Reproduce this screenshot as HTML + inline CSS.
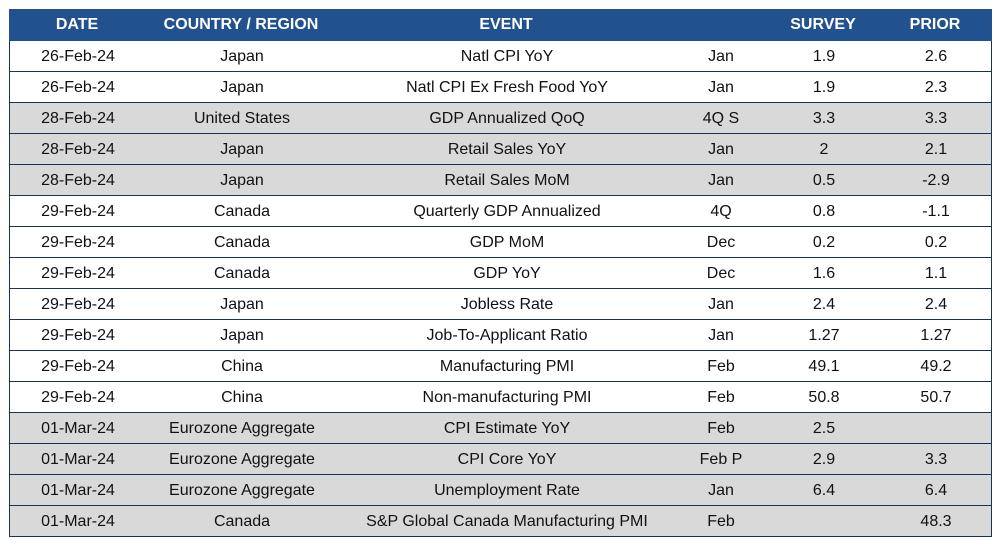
<!DOCTYPE html><html><head><style>
body{margin:0;width:1000px;height:550px;background:#fff;font-family:"Liberation Sans",Arial,sans-serif;position:relative;overflow:hidden}
.t{position:absolute;left:9px;width:983px;top:9px}
.r{position:relative;height:30px;border-bottom:1px solid #1b3350;border-left:1px solid #1b3350;border-right:1px solid #1b3350;font-size:16px;color:#111}
.h{background:#22518f;color:#fff;font-weight:bold;height:32px;border:none}
.h span{line-height:32px!important}
.g{background:#d9d9d9}
.r span{position:absolute;top:0;line-height:31px;transform:translateX(-50%);white-space:nowrap}
</style></head><body><div class="t" id="t"></div>
<script>
var cx=[68,232,497,711,814,926];
var rows=[["DATE","COUNTRY / REGION","EVENT","","SURVEY","PRIOR"],
["26-Feb-24","Japan","Natl CPI YoY","Jan","1.9","2.6",0],
["26-Feb-24","Japan","Natl CPI Ex Fresh Food YoY","Jan","1.9","2.3",0],
["28-Feb-24","United States","GDP Annualized QoQ","4Q S","3.3","3.3",1],
["28-Feb-24","Japan","Retail Sales YoY","Jan","2","2.1",1],
["28-Feb-24","Japan","Retail Sales MoM","Jan","0.5","-2.9",1],
["29-Feb-24","Canada","Quarterly GDP Annualized","4Q","0.8","-1.1",0],
["29-Feb-24","Canada","GDP MoM","Dec","0.2","0.2",0],
["29-Feb-24","Canada","GDP YoY","Dec","1.6","1.1",0],
["29-Feb-24","Japan","Jobless Rate","Jan","2.4","2.4",0],
["29-Feb-24","Japan","Job-To-Applicant Ratio","Jan","1.27","1.27",0],
["29-Feb-24","China","Manufacturing PMI","Feb","49.1","49.2",0],
["29-Feb-24","China","Non-manufacturing PMI","Feb","50.8","50.7",0],
["01-Mar-24","Eurozone Aggregate","CPI Estimate YoY","Feb","2.5","",1],
["01-Mar-24","Eurozone Aggregate","CPI Core YoY","Feb P","2.9","3.3",1],
["01-Mar-24","Eurozone Aggregate","Unemployment Rate","Jan","6.4","6.4",1],
["01-Mar-24","Canada","S&amp;P Global Canada Manufacturing PMI","Feb","","48.3",1]];
var h="";rows.forEach(function(r,i){h+='<div class="r'+(i==0?' h':(r[6]?' g':''))+'">';for(var j=0;j<6;j++)h+='<span style="left:'+cx[j]+'px">'+r[j]+'</span>';h+='</div>';});
document.getElementById('t').innerHTML=h;
</script></body></html>
